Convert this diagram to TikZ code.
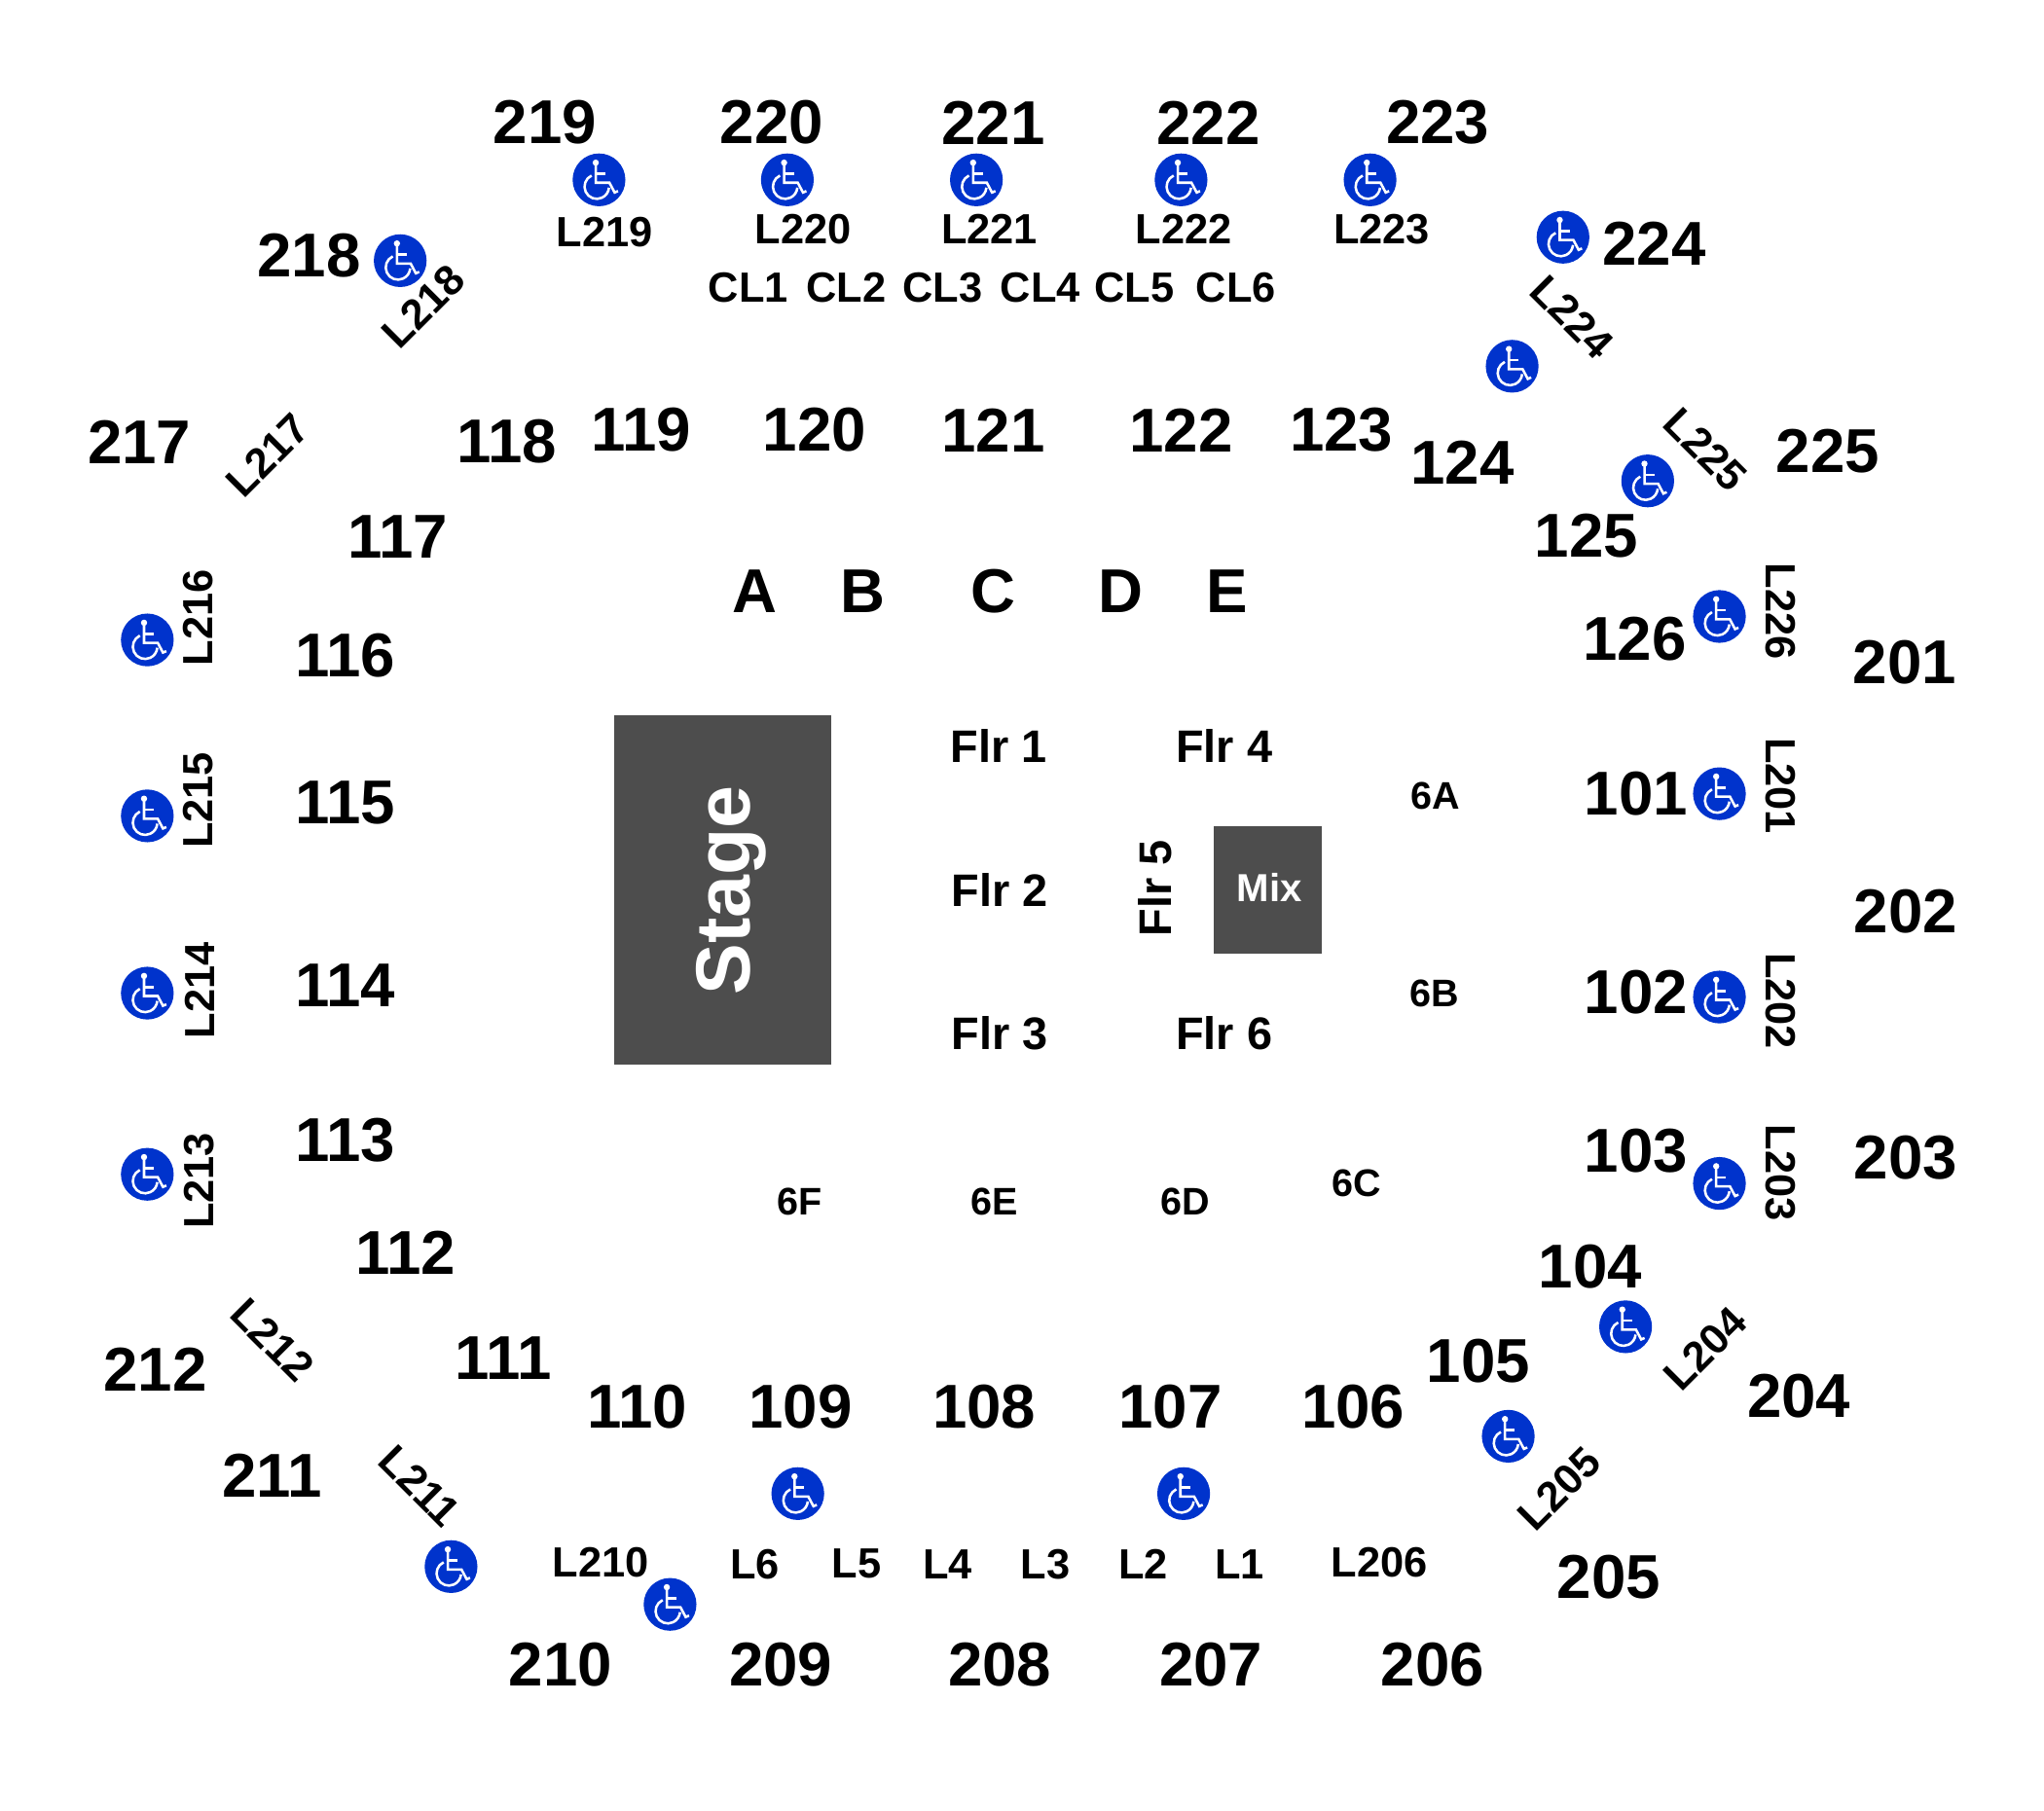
\documentclass[tikz,border=0pt]{standalone}
\usepackage{fontspec}
\setmainfont{Liberation Sans}
\definecolor{wcblue}{HTML}{0033CC}
\definecolor{stagegray}{HTML}{4D4D4D}
\tikzset{
	sec/.style={inner sep=0pt, yshift=1pt, font=\fontsize{47.5}{50}\selectfont\bfseries},
	lbl/.style={inner sep=0pt, font=\fontsize{32.4}{36}\selectfont\bfseries},
	flr/.style={inner sep=0pt, yshift=.5pt, font=\fontsize{35}{38}\selectfont\bfseries},
	sml/.style={inner sep=0pt, xshift=.5pt, font=\fontsize{29.5}{32}\selectfont\bfseries},
	block/.style={fill=stagegray, inner sep=0pt},
	blocktext/.style={text=white, inner sep=0pt},
	wheel/.style={circle, fill=wcblue, minimum size=40.5pt, inner sep=0pt,
		path picture={
			\begin{scope}[shift={(path picture bounding box.center)}, x=1pt, y=1pt, white, line width=1.9pt]
				\fill (-2.5,13.2) circle (2.4pt);
				\draw (-2.5,12) -- (-2.5,-2.2) -- (8,-2.2) -- (12,-9.7) -- (14.6,-8.6);
				\draw (-2.5,4.7) -- (5,4.7);
				\draw (-5.67,3.32) arc[start angle=115, end angle=355, radius=9.4pt];
			\end{scope}
		}},
}
\begin{document}
\begin{tikzpicture}[x=1pt,y=-1pt]
	\useasboundingbox (0,0) rectangle (1568,1388.8);
	% stage and mix
	\node[block, minimum width=167pt, minimum height=268pt] (stagebox) at (554.5,683) {};
	\node[blocktext, rotate=90, font=\fontsize{59}{62}\selectfont\bfseries] (stage) at (561,683) {Stage};
	\node[block, minimum width=83pt, minimum height=98pt] (mixbox) at (972.5,683) {};
	\node[blocktext, font=\fontsize{30}{32}\selectfont\bfseries] (mix) at (974,681) {Mix};
	% upper level
	\node[sec] (s219) at (418,95) {219};
	\node[sec] (s220) at (592,95) {220};
	\node[sec] (s221) at (762,95) {221};
	\node[sec] (s222) at (927,95) {222};
	\node[sec] (s223) at (1103,95) {223};
	\node[sec] (s224) at (1269,188) {224};
	\node[sec] (s225) at (1402,347) {225};
	\node[sec] (s201) at (1461,509) {201};
	\node[sec] (s202) at (1462,700) {202};
	\node[sec] (s203) at (1462,889) {203};
	\node[sec] (s204) at (1380,1072) {204};
	\node[sec] (s205) at (1234,1211) {205};
	\node[sec] (s206) at (1099,1278) {206};
	\node[sec] (s207) at (929,1278) {207};
	\node[sec] (s208) at (767,1278) {208};
	\node[sec] (s209) at (599,1278) {209};
	\node[sec] (s210) at (430,1278) {210};
	\node[sec] (s211) at (209,1133) {211};
	\node[sec] (s212) at (119,1052) {212};
	\node[sec] (s217) at (107,340) {217};
	\node[sec] (s218) at (237,197) {218};
	% lower level
	\node[sec] (s118) at (389,340) {118};
	\node[sec] (s119) at (492,331) {119};
	\node[sec] (s120) at (625,331) {120};
	\node[sec] (s121) at (762,331) {121};
	\node[sec] (s122) at (906,331) {122};
	\node[sec] (s123) at (1029,331) {123};
	\node[sec] (s124) at (1122,356) {124};
	\node[sec] (s125) at (1217,412) {125};
	\node[sec] (s126) at (1254,491) {126};
	\node[sec] (s101) at (1255,610) {101};
	\node[sec] (s102) at (1255,762) {102};
	\node[sec] (s103) at (1255,884) {103};
	\node[sec] (s104) at (1220,973) {104};
	\node[sec] (s105) at (1134,1045) {105};
	\node[sec] (s106) at (1038,1080) {106};
	\node[sec] (s107) at (898,1080) {107};
	\node[sec] (s108) at (755,1080) {108};
	\node[sec] (s109) at (614,1080) {109};
	\node[sec] (s110) at (489,1080) {110};
	\node[sec] (s111) at (386,1043) {111};
	\node[sec] (s112) at (311,962) {112};
	\node[sec] (s113) at (265,876) {113};
	\node[sec] (s114) at (265,757) {114};
	\node[sec] (s115) at (265,617) {115};
	\node[sec] (s116) at (265,504) {116};
	\node[sec] (s117) at (305,413) {117};
	% rows
	\node[sec] (rowA) at (579,455) {A};
	\node[sec] (rowB) at (662,455) {B};
	\node[sec] (rowC) at (762,455) {C};
	\node[sec] (rowD) at (860,455) {D};
	\node[sec] (rowE) at (941,455) {E};
	% loges
	\node[lbl] (l219) at (464,178) {L219};
	\node[lbl] (l220) at (616,176) {L220};
	\node[lbl] (l221) at (759,176) {L221};
	\node[lbl] (l222) at (908,176) {L222};
	\node[lbl] (l223) at (1060,176) {L223};
	\node[lbl] (cl1) at (574,221) {CL1};
	\node[lbl] (cl2) at (649,221) {CL2};
	\node[lbl] (cl3) at (723,221) {CL3};
	\node[lbl] (cl4) at (798,221) {CL4};
	\node[lbl] (cl5) at (870,221) {CL5};
	\node[lbl] (cl6) at (948,221) {CL6};
	\node[lbl, rotate=45] (l218) at (325,235) {L218};
	\node[lbl, rotate=45] (l217) at (205,349) {L217};
	\node[lbl, rotate=90] (l216) at (152,474) {L216};
	\node[lbl, rotate=90] (l215) at (152,614) {L215};
	\node[lbl, rotate=90] (l214) at (153,760) {L214};
	\node[lbl, rotate=90] (l213) at (153,906) {L213};
	\node[lbl, rotate=-45] (l212) at (209,1028) {L212};
	\node[lbl, rotate=-45] (l211) at (322,1140) {L211};
	\node[lbl] (l210) at (461,1199) {L210};
	\node[lbl] (l6) at (579,1200) {L6};
	\node[lbl] (l5) at (657,1200) {L5};
	\node[lbl] (l4) at (727,1200) {L4};
	\node[lbl] (l3) at (802,1200) {L3};
	\node[lbl] (l2) at (877,1200) {L2};
	\node[lbl] (l1) at (951,1200) {L1};
	\node[lbl] (l206) at (1058,1199) {L206};
	\node[lbl, rotate=45] (l205) at (1196,1142) {L205};
	\node[lbl, rotate=45] (l204) at (1308,1035) {L204};
	\node[lbl, rotate=-90] (l203) at (1366,900) {L203};
	\node[lbl, rotate=-90] (l202) at (1366,768) {L202};
	\node[lbl, rotate=-90] (l201) at (1366,603) {L201};
	\node[lbl, rotate=-90] (l226) at (1366,469) {L226};
	\node[lbl, rotate=-45] (l225) at (1308,345) {L225};
	\node[lbl, rotate=-45] (l224) at (1206,243) {L224};
	% floor
	\node[flr] (flr1) at (766,573) {Flr 1};
	\node[flr] (flr2) at (767,683) {Flr 2};
	\node[flr] (flr3) at (767,793) {Flr 3};
	\node[flr] (flr4) at (939,573) {Flr 4};
	\node[flr, rotate=90] (flr5) at (886,682) {Flr 5};
	\node[flr] (flr6) at (939,793) {Flr 6};
	\node[sml] (f6a) at (1101,611) {6A};
	\node[sml] (f6b) at (1100,762) {6B};
	\node[sml] (f6c) at (1040,908) {6C};
	\node[sml] (f6d) at (909,922) {6D};
	\node[sml] (f6e) at (762,922) {6E};
	\node[sml] (f6f) at (613,922) {6F};
	% accessible seating
	\node[wheel] (w219) at (459.5,138) {};
	\node[wheel] (w220) at (604,138) {};
	\node[wheel] (w221) at (749,138) {};
	\node[wheel] (w222) at (906,138) {};
	\node[wheel] (w223) at (1051,138) {};
	\node[wheel] (w224) at (1199,182) {};
	\node[wheel] (w124) at (1160,281) {};
	\node[wheel] (w125) at (1264,369) {};
	\node[wheel] (w126) at (1319,473) {};
	\node[wheel] (w101) at (1319,609) {};
	\node[wheel] (w102) at (1319,765) {};
	\node[wheel] (w103) at (1319,908) {};
	\node[wheel] (w104) at (1247,1018) {};
	\node[wheel] (w105) at (1157,1102) {};
	\node[wheel] (w107) at (908,1146) {};
	\node[wheel] (w109) at (612,1146) {};
	\node[wheel] (w210) at (514,1231) {};
	\node[wheel] (w211) at (346,1202) {};
	\node[wheel] (w213) at (113,901) {};
	\node[wheel] (w214) at (113,762) {};
	\node[wheel] (w215) at (113,626) {};
	\node[wheel] (w216) at (113,491) {};
	\node[wheel] (w218) at (307,200) {};
\end{tikzpicture}
\end{document}
